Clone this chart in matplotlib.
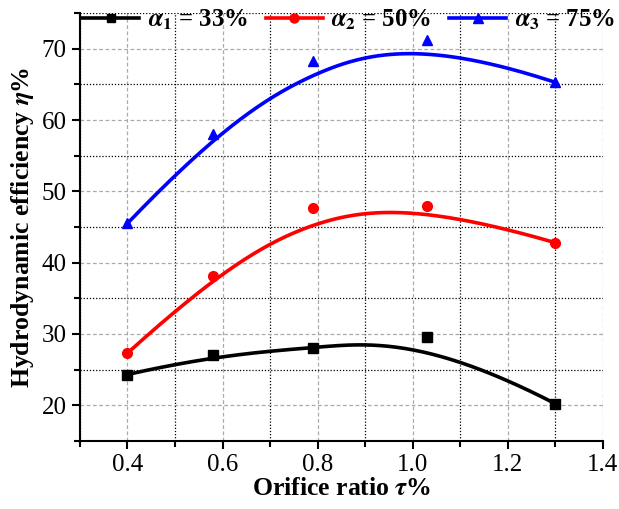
import numpy as np
import matplotlib
matplotlib.use("Agg")
import matplotlib.pyplot as plt
from matplotlib.ticker import MultipleLocator

plt.rcParams['font.family'] = ['Liberation Serif', 'DejaVu Serif']
plt.rcParams['mathtext.fontset'] = 'stix'

# data
tau = [0.40, 0.58, 0.79, 1.03, 1.30]
eta_33 = [24.3, 27.0, 28.0, 29.5, 20.2]
eta_50 = [27.3, 38.1, 47.7, 48.0, 42.8]
eta_75 = [45.5, 58.0, 68.3, 71.2, 65.3]
labels = [r'$\boldsymbol{\alpha}_\mathbf{1}$ = 33%',
          r'$\boldsymbol{\alpha}_\mathbf{2}$ = 50%',
          r'$\boldsymbol{\alpha}_\mathbf{3}$ = 75%']
colors = ['black', 'red', 'blue']
markers = ['s', 'o', '^']
msizes = [6.5, 7, 7.5]


def bspline(px, py, n=200):
    # clamped cubic B-spline with the data points as control points
    k = 3
    m = len(px)
    knots = np.concatenate([np.zeros(k), np.linspace(0, 1, m - k + 1), np.ones(k)])
    t = np.linspace(0, 1 - 1e-9, n)

    def N(i, p, t):
        if p == 0:
            return ((knots[i] <= t) & (t < knots[i + 1])).astype(float)
        a = 0.0
        if knots[i + p] != knots[i]:
            a = (t - knots[i]) / (knots[i + p] - knots[i]) * N(i, p - 1, t)
        b = 0.0
        if knots[i + p + 1] != knots[i + 1]:
            b = (knots[i + p + 1] - t) / (knots[i + p + 1] - knots[i + 1]) * N(i + 1, p - 1, t)
        return a + b

    B = np.array([N(i, k, t) for i in range(m)])
    return B.T @ np.array(px), B.T @ np.array(py)


fig = plt.figure(figsize=(6.19, 5.09), dpi=100)
ax = fig.add_axes([0.129, 0.134, 0.845, 0.84])

for y, c, mk, ms, lab in zip([eta_33, eta_50, eta_75], colors, markers, msizes, labels):
    sx, sy = bspline(tau, y)
    ax.plot(sx, sy, color=c, lw=2.6, zorder=3)
    ax.plot(tau, y, linestyle='none', marker=mk, color=c, ms=ms, zorder=4)
    ax.plot([], [], color=c, lw=2.6, marker=mk, ms=ms - 0.5, label=lab)

ax.set_xlim(0.3, 1.4)
ax.set_ylim(15, 75)
ax.xaxis.set_minor_locator(MultipleLocator(0.1))
ax.yaxis.set_minor_locator(MultipleLocator(5))
ax.set_xticks([0.4, 0.6, 0.8, 1.0, 1.2, 1.4])
ax.set_yticks([20, 30, 40, 50, 60, 70])

ax.grid(which='major', color='#aaaaaa', linestyle=(0, (3, 2)), lw=0.9)
ax.grid(which='minor', color='black', linestyle=(0, (1, 1.5)), lw=0.9)
ax.set_axisbelow(True)

for s in ['top', 'right']:
    ax.spines[s].set_visible(False)
for s in ['left', 'bottom']:
    ax.spines[s].set_linewidth(1.5)
ax.tick_params(which='major', direction='out', length=6, width=1.5, labelsize=18)
ax.tick_params(which='minor', direction='out', length=4, width=1.5)

ax.set_xlabel(r'Orifice ratio $\boldsymbol{\tau}$%', fontsize=18.5, fontweight='bold', labelpad=1)
ax.set_ylabel(r'Hydrodynamic efficiency $\boldsymbol{\eta}$%', fontsize=18.5, fontweight='bold', labelpad=4)

ax.legend(loc='upper left', bbox_to_anchor=(0.005, 1.012), ncol=3, frameon=False,
          prop={'size': 17.8, 'weight': 'bold'}, handlelength=2.3, columnspacing=0.72,
          handletextpad=0.35, borderaxespad=0, borderpad=0)

fig.savefig('out.png', dpi=100)
